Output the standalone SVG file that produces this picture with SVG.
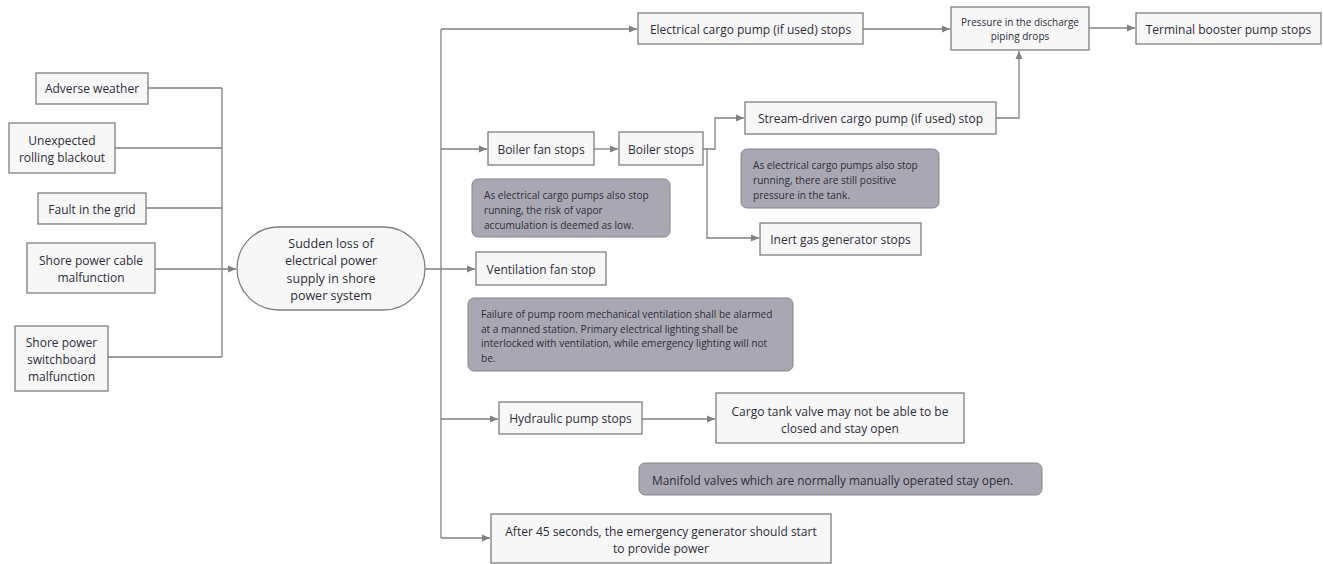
<svg xmlns="http://www.w3.org/2000/svg" width="1323" height="564" viewBox="0 0 1323 564">
<style>
.box{fill:#f7f7f7;stroke:#7f7f7f;stroke-width:1.3}
.note{fill:#a9a8b2;stroke:#85858c;stroke-width:1}
.t{font-family:"Open Sans","Noto Sans","Liberation Sans",sans-serif;font-size:12px;fill:#2e2e3a;text-anchor:middle;dominant-baseline:central}
.s{font-size:10px}
.n{font-family:"Open Sans","Noto Sans","Liberation Sans",sans-serif;font-size:10.1px;fill:#2e2e3a;dominant-baseline:central}
.c{fill:none;stroke:#808080;stroke-width:1.3}
</style>
<defs>
<marker id="ah" markerUnits="userSpaceOnUse" markerWidth="9" markerHeight="8" refX="8" refY="4" orient="auto">
<path d="M0,0.5 L8,4 L0,7.5 Z" fill="#808080"/>
</marker>
</defs>
<rect width="1323" height="564" fill="#ffffff"/>
<g id="connectors">
<path class="c" d="M148,88 H222 M115,148 H222 M146,208 H222 M108,357 H222 M222,88 V357"/>
<path class="c" d="M155,269 H236" marker-end="url(#ah)"/>
<path class="c" d="M425,269 H475" marker-end="url(#ah)"/>
<path class="c" d="M441,29 V538"/>
<path class="c" d="M441,29 H637" marker-end="url(#ah)"/>
<path class="c" d="M441,149 H487" marker-end="url(#ah)"/>
<path class="c" d="M441,419 H498" marker-end="url(#ah)"/>
<path class="c" d="M441,538 H490" marker-end="url(#ah)"/>
<path class="c" d="M594,149 H618" marker-end="url(#ah)"/>
<path class="c" d="M703,149 H715 V118 H744" marker-end="url(#ah)"/>
<path class="c" d="M707,149 V238 H759" marker-end="url(#ah)"/>
<path class="c" d="M863,29 H950" marker-end="url(#ah)"/>
<path class="c" d="M996,118 H1019 V51" marker-end="url(#ah)"/>
<path class="c" d="M1089,28 H1135" marker-end="url(#ah)"/>
<path class="c" d="M642,419 H715" marker-end="url(#ah)"/>
</g>
<g id="adverse-weather"><rect class="box" x="36" y="73" width="112" height="31"/><text class="t" x="92" y="88.5">Adverse weather</text></g>
<g id="rolling-blackout"><rect class="box" x="9" y="123" width="106" height="50"/><text class="t" x="62" y="140">Unexpected</text><text class="t" x="62" y="157">rolling blackout</text></g>
<g id="fault-grid"><rect class="box" x="38" y="193" width="108" height="31"/><text class="t" x="92" y="209">Fault in the grid</text></g>
<g id="cable-malfunction"><rect class="box" x="27" y="243" width="128" height="50"/><text class="t" x="91" y="260">Shore power cable</text><text class="t" x="91" y="277">malfunction</text></g>
<g id="switchboard-malfunction"><rect class="box" x="15" y="326" width="93" height="65"/><text class="t" x="61.5" y="342">Shore power</text><text class="t" x="61.5" y="359">switchboard</text><text class="t" x="61.5" y="376">malfunction</text></g>
<g id="sudden-loss"><rect class="box" x="237" y="227" width="188" height="83" rx="41.5"/><text class="t" x="331" y="243" style="font-size:12.5px">Sudden loss of</text><text class="t" x="331" y="260.5" style="font-size:12.5px">electrical power</text><text class="t" x="331" y="278" style="font-size:12.5px">supply in shore</text><text class="t" x="331" y="295.5" style="font-size:12.5px">power system</text></g>
<g id="electrical-cargo-pump"><rect class="box" x="638" y="13" width="225" height="31"/><text class="t" x="750.5" y="29">Electrical cargo pump (if used) stops</text></g>
<g id="pressure-drops"><rect class="box" x="951" y="7" width="138" height="43"/><text class="t s" x="1020" y="21.5">Pressure in the discharge</text><text class="t s" x="1020" y="36">piping drops</text></g>
<g id="terminal-booster"><rect class="box" x="1136" y="13" width="185" height="31"/><text class="t" x="1228.5" y="29">Terminal booster pump stops</text></g>
<g id="boiler-fan"><rect class="box" x="488" y="132" width="106" height="33"/><text class="t" x="541" y="149">Boiler fan stops</text></g>
<g id="boiler-stops"><rect class="box" x="619" y="132" width="84" height="33"/><text class="t" x="661" y="149">Boiler stops</text></g>
<g id="stream-driven"><rect class="box" x="745" y="102" width="251" height="32"/><text class="t" x="870.5" y="118">Stream-driven cargo pump (if used) stop</text></g>
<g id="note-positive-pressure"><rect class="note" x="741" y="149" width="198" height="59" rx="6"/><text class="n" x="753" y="165">As electrical cargo pumps also stop</text><text class="n" x="753" y="180">running, there are still positive</text><text class="n" x="753" y="195">pressure in the tank.</text></g>
<g id="note-vapor"><rect class="note" x="472" y="179" width="198" height="58" rx="6"/><text class="n" x="484" y="195">As electrical cargo pumps also stop</text><text class="n" x="484" y="210">running, the risk of vapor</text><text class="n" x="484" y="225">accumulation is deemed as low.</text></g>
<g id="inert-gas"><rect class="box" x="760" y="223" width="161" height="32"/><text class="t" x="840.5" y="239">Inert gas generator stops</text></g>
<g id="ventilation-fan"><rect class="box" x="476" y="252" width="130" height="33"/><text class="t" x="541" y="269">Ventilation fan stop</text></g>
<g id="note-ventilation"><rect class="note" x="468" y="298" width="325" height="73" rx="6"/><text class="n" x="481" y="314">Failure of pump room mechanical ventilation shall be alarmed</text><text class="n" x="481" y="328.5">at a manned station. Primary electrical lighting shall be</text><text class="n" x="481" y="343">interlocked with ventilation, while emergency lighting will not</text><text class="n" x="481" y="357.5">be.</text></g>
<g id="hydraulic-pump"><rect class="box" x="499" y="402" width="143" height="32"/><text class="t" x="570.5" y="418.5">Hydraulic pump stops</text></g>
<g id="cargo-tank-valve"><rect class="box" x="716" y="393" width="248" height="50"/><text class="t" x="840" y="411">Cargo tank valve may not be able to be</text><text class="t" x="840" y="428">closed and stay open</text></g>
<g id="note-manifold"><rect class="note" x="639" y="463" width="403" height="32" rx="6"/><text class="n" x="652" y="479.5" style="font-size:11.85px">Manifold valves which are normally manually operated stay open.</text></g>
<g id="emergency-generator"><rect class="box" x="491" y="514" width="340" height="49"/><text class="t" x="661" y="531">After 45 seconds, the emergency generator should start</text><text class="t" x="661" y="548">to provide power</text></g>
</svg>
